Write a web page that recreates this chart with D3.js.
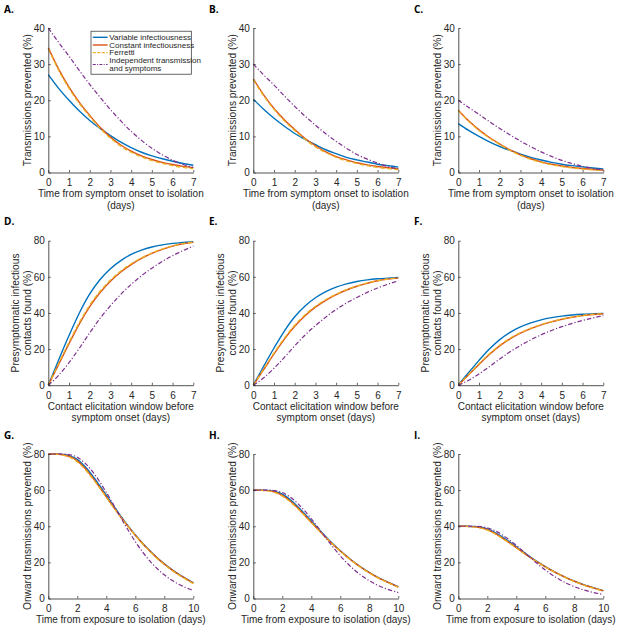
<!DOCTYPE html>
<html><head><meta charset="utf-8">
<script src="https://cdn.jsdelivr.net/npm/d3@7"></script>
<style>body{margin:0;background:#fff} svg{display:block}</style>
</head><body>
<svg id="chart" width="617" height="630"></svg>
<script>
// ---------- data ----------
const daysShort = [0,0.5,1,1.5,2,2.5,3,3.5,4,4.5,5,5.5,6,6.5,7];
const daysLong = [0,0.5,1,1.5,2,2.5,3,3.5,4,4.5,5,5.5,6,6.5,7,7.5,8,8.5,9,9.5,10];

const seriesNames = ["Variable infectiousness","Constant infectiousness","Ferretti","Independent transmission and symptoms"];
const legendRows = [["Variable infectiousness"],["Constant infectiousness"],["Ferretti"],["Independent transmission","and symptoms"]];
const panelLabels = ["A.","B.","C.","D.","E.","F.","G.","H.","I."];

const xTicksShort = [0,1,2,3,4,5,6,7];
const xTicksLong = [0,2,4,6,8,10];
const yTicksRow1 = [0,10,20,30,40];
const yTicksRow2 = [0,20,40,60,80];
const yTicksRow3 = [0,20,40,60,80];

const xTitleRow1 = ["Time from symptom onset to isolation","(days)"];
const xTitleRow2 = ["Contact elicitation window before","symptom onset (days)"];
const xTitleRow3 = ["Time from exposure to isolation (days)"];
const yTitleRow1 = ["Transmissions prevented (%)"];
const yTitleRow2 = ["Presymptomatic infectious","contacts found (%)"];
const yTitleRow3 = ["Onward transmissions prevented (%)"];

// Panel A
const aVariable = [27.1,23.3,20.0,17.0,14.4,12.2,10.2,8.4,6.9,5.6,4.6,3.8,3.1,2.5,2.0];
const aConstant = [34.5,28.6,23.6,19.4,15.8,12.5,9.8,7.6,5.9,4.6,3.6,2.8,2.2,1.7,1.35];
const aFerretti = [34.3,28.3,23.3,19.1,15.5,12.2,9.5,7.3,5.6,4.3,3.3,2.5,1.9,1.4,1.05];
const aIndependent = [40,36,32.2,28.2,24.4,20.8,17.4,14.3,11.4,8.9,6.7,4.9,3.4,2.2,1.4];
// Panel B
const bVariable = [20.3,17.5,15.0,12.8,10.8,9.2,7.7,6.3,5.2,4.2,3.5,2.9,2.3,1.9,1.5];
const bConstant = [25.9,21.5,17.7,14.6,11.9,9.4,7.4,5.7,4.4,3.5,2.7,2.1,1.65,1.3,1.0];
const bFerretti = [25.7,21.2,17.5,14.3,11.6,9.2,7.1,5.5,4.2,3.2,2.5,1.9,1.4,1.05,0.8];
const bIndependent = [30,27,24.2,21.2,18.3,15.6,13.1,10.7,8.6,6.7,5.0,3.7,2.6,1.65,1.05];
// Panel C
const cVariable = [13.55,11.65,10.0,8.5,7.2,6.1,5.1,4.2,3.45,2.8,2.3,1.9,1.55,1.25,1.0];
const cConstant = [17.25,14.3,11.8,9.7,7.9,6.25,4.9,3.8,2.95,2.3,1.8,1.4,1.1,0.85,0.68];
const cFerretti = [17.15,14.15,11.65,9.55,7.75,6.1,4.75,3.65,2.8,2.15,1.65,1.25,0.95,0.7,0.53];
const cIndependent = [20,18,16.1,14.1,12.2,10.4,8.7,7.15,5.7,4.45,3.35,2.45,1.7,1.1,0.7];
// Panel D
const dVariable = [0,14,27.5,40,50.5,58.5,64.5,69,72.4,74.8,76.5,77.7,78.5,79,79.4];
const dConstant = [0,11.5,23,34,43.5,51.3,57.6,62.7,66.8,70.2,73,75.2,77,78.3,79.1];
const dFerretti = [0,12,23.8,34.8,44.3,52,58.2,63.2,67.2,70.5,73.2,75.4,77.1,78.4,79.2];
const dIndependent = [0,5.5,12.5,20.5,29,37,44,50.3,55.8,60.6,64.8,68.5,71.7,74.5,77];
// Panel E
const eVariable = [0,10.5,20.6,30,37.9,43.9,48.4,51.8,54.3,56.1,57.4,58.3,58.9,59.3,59.6];
const eConstant = [0,8.6,17.3,25.5,32.6,38.5,43.2,47.0,50.1,52.7,54.8,56.4,57.8,58.7,59.3];
const eFerretti = [0,9,17.9,26.1,33.2,39,43.7,47.4,50.4,52.9,54.9,56.6,57.8,58.8,59.4];
const eIndependent = [0,4.1,9.4,15.4,21.8,27.8,33,37.7,41.9,45.5,48.6,51.4,53.8,55.9,57.8];
// Panel F
const fVariable = [0,7,13.75,20,25.25,29.25,32.25,34.5,36.2,37.4,38.25,38.85,39.25,39.5,39.7];
const fConstant = [0,5.75,11.5,17,21.75,25.65,28.8,31.35,33.4,35.1,36.5,37.6,38.5,39.15,39.55];
const fFerretti = [0,6,11.9,17.4,22.15,26,29.1,31.6,33.6,35.25,36.6,37.7,38.55,39.2,39.6];
const fIndependent = [0,2.75,6.25,10.25,14.5,18.5,22,25.15,27.9,30.3,32.4,34.25,35.85,37.25,38.5];
// Panel G
const gVariable = [80,80,79.8,79,77,73.3,68.5,63,57.2,51.3,45.6,40.2,35.2,30.6,26.4,22.6,19.2,16.1,13.4,11.0,8.7];
const gConstant = [80,80,79.6,78.5,76.2,72.4,67.5,62,56.3,50.6,45.1,39.9,35,30.5,26.3,22.5,19.1,16,13.3,10.9,8.5];
const gFerretti = [80,79.9,79.4,78.1,75.6,71.8,67,61.6,56,50.4,45,39.8,34.9,30.3,26.1,22.2,18.8,15.7,13,10.6,8.2];
const gIndependent = [80,80,80,79.6,78.2,75.2,70.8,65.2,58.8,51.9,44.8,37.9,31.5,25.8,20.8,16.6,13.1,10.2,7.9,6.0,4.4];
// Panel H
const hVariable = [60,60,59.85,59.25,57.75,55,51.4,47.25,42.9,38.5,34.2,30.15,26.4,22.95,19.8,16.95,14.4,12.1,10.05,8.25,6.5];
const hConstant = [60,60,59.7,58.9,57.15,54.3,50.6,46.5,42.2,37.95,33.8,29.9,26.25,22.9,19.7,16.9,14.3,12,10,8.2,6.4];
const hFerretti = [60,59.9,59.55,58.6,56.7,53.85,50.25,46.2,42,37.8,33.75,29.85,26.2,22.7,19.6,16.65,14.1,11.8,9.75,7.95,6.15];
const hIndependent = [60,60,60,59.7,58.65,56.4,53.1,48.9,44.1,38.9,33.6,28.4,23.6,19.35,15.6,12.45,9.8,7.65,5.9,4.5,3.3];
// Panel I
const iVariable = [40,40,39.9,39.5,38.5,36.65,34.25,31.5,28.6,25.65,22.8,20.1,17.6,15.3,13.2,11.3,9.6,8.05,6.7,5.5,4.35];
const iConstant = [40,40,39.8,39.25,38.1,36.2,33.75,31,28.15,25.3,22.55,19.95,17.5,15.25,13.15,11.25,9.55,8,6.65,5.45,4.25];
const iFerretti = [40,39.95,39.7,39.05,37.8,35.9,33.5,30.8,28,25.2,22.5,19.9,17.45,15.15,13.05,11.1,9.4,7.85,6.5,5.3,4.1];
const iIndependent = [40,40,40,39.8,39.1,37.6,35.4,32.6,29.4,25.95,22.4,18.95,15.75,12.9,10.4,8.3,6.55,5.1,3.95,3.0,2.2];

// ---------- styles / layout ----------
const colors = ["#0072BD","#D95319","#EDB120","#7E2F8E"];
const dashes = [null,null,"4.5,2.5","4.5,2,1.2,2"];
const widths = [1.4,1.4,1.3,1.2];
const ink = "#262626";
const FONT = "'Liberation Sans', Arial, Helvetica, sans-serif";

const colLeft = [48.3, 253.3, 458.3];
const plotW = 145;
const rowTop = [28, 240.7, 454];
const plotH = 144.5;

const rows = [
  {days: daysShort, xMax: 7, xTicks: xTicksShort, yMax: 40, yTicks: yTicksRow1, xTitle: xTitleRow1, yTitle: yTitleRow1,
   panels: [[aVariable,aConstant,aFerretti,aIndependent],[bVariable,bConstant,bFerretti,bIndependent],[cVariable,cConstant,cFerretti,cIndependent]]},
  {days: daysShort, xMax: 7, xTicks: xTicksShort, yMax: 80, yTicks: yTicksRow2, xTitle: xTitleRow2, yTitle: yTitleRow2,
   panels: [[dVariable,dConstant,dFerretti,dIndependent],[eVariable,eConstant,eFerretti,eIndependent],[fVariable,fConstant,fFerretti,fIndependent]]},
  {days: daysLong, xMax: 10, xTicks: xTicksLong, yMax: 80, yTicks: yTicksRow3, xTitle: xTitleRow3, yTitle: yTitleRow3,
   panels: [[gVariable,gConstant,gFerretti,gIndependent],[hVariable,hConstant,hFerretti,hIndependent],[iVariable,iConstant,iFerretti,iIndependent]]}
];

const svg = d3.select("#chart");
svg.append("rect").attr("width",617).attr("height",630).attr("fill","#fff");

rows.forEach((row, r) => {
  row.panels.forEach((series, c) => {
    const left = colLeft[c], top = rowTop[r], bottom = top + plotH, right = left + plotW;
    const x = d3.scaleLinear().domain([0, row.xMax]).range([left, right]);
    const y = d3.scaleLinear().domain([0, row.yMax]).range([bottom, top]);
    const g = svg.append("g");

    // panel label
    svg.append("text").attr("x", left - 44.3).attr("y", top - 15.3)
      .attr("font-family","'Open Sans', sans-serif").attr("font-weight","700")
      .attr("font-size","10px").attr("fill","#000").text(panelLabels[r*3+c]);

    // lines
    const line = d3.line().x((d,i) => x(row.days[i])).y(d => y(d)).curve(d3.curveMonotoneX);
    series.forEach((vals, k) => {
      g.append("path").datum(vals).attr("d", line).attr("fill","none")
        .attr("stroke", colors[k]).attr("stroke-width", widths[k])
        .attr("stroke-dasharray", dashes[k]).attr("stroke-linejoin","round");
    });

    // axes
    const xAxis = d3.axisBottom(x).tickValues(row.xTicks).tickFormat(d3.format("d"))
      .tickSizeInner(-2.5).tickSizeOuter(0).tickPadding(6.3);
    const yAxis = d3.axisLeft(y).tickValues(row.yTicks).tickFormat(d3.format("d"))
      .tickSizeInner(-2.5).tickSizeOuter(0).tickPadding(3.5);
    const gx = svg.append("g").attr("transform",`translate(0,${bottom})`).call(xAxis);
    const gy = svg.append("g").attr("transform",`translate(${left},0)`).call(yAxis);
    [gx, gy].forEach(a => {
      a.select(".domain").attr("stroke", ink).attr("stroke-width", 0.8);
      a.selectAll(".tick line").attr("stroke", ink).attr("stroke-width", 0.7);
      a.selectAll(".tick text").attr("fill", ink).attr("font-family", FONT).attr("font-size","10px");
    });

    // x title
    row.xTitle.forEach((t, i) => {
      svg.append("text").attr("x", (left+right)/2).attr("y", bottom + 24.5 + i*11.5)
        .attr("text-anchor","middle").attr("font-family",FONT).attr("font-size","10px")
        .attr("fill", ink).text(t);
    });
    // y title
    const n = row.yTitle.length;
    row.yTitle.forEach((t, i) => {
      const bx = left - 17.5 - (n - 1 - i) * 12;
      svg.append("text").attr("transform",`translate(${bx},${(top+bottom)/2}) rotate(-90)`)
        .attr("text-anchor","middle").attr("font-family",FONT).attr("font-size","10.2px")
        .attr("fill", ink).text(t);
    });

    // legend in first panel
    if (r === 0 && c === 0) {
      const lg = svg.append("g");
      lg.append("rect").attr("x", left + 42.7).attr("y", top + 3.2)
        .attr("width", 100.3).attr("height", 43)
        .attr("fill","#fff").attr("stroke", ink).attr("stroke-width", 0.7);
      const rowY = [9.3, 17, 24.7, 32.6];
      legendRows.forEach((lines, k) => {
        const cy = top + rowY[k] + (lines.length - 1) * 3.9;
        lg.append("line").attr("x1", left + 44.5).attr("x2", left + 59.3)
          .attr("y1", cy).attr("y2", cy).attr("stroke", colors[k])
          .attr("stroke-width", widths[k]).attr("stroke-dasharray", dashes[k] ? (k===2 ? "3,1.5" : "3,1.3,1,1.3") : null);
        lines.forEach((t, j) => {
          lg.append("text").attr("x", left + 61).attr("y", top + rowY[k] + j*7.8 + 2.7)
            .attr("font-family",FONT).attr("font-size","8px").attr("fill", ink).text(t);
        });
      });
    }
  });
});
</script>
</body></html>
